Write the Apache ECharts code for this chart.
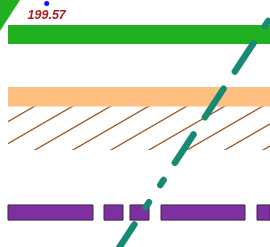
<!DOCTYPE html>
<html>
<head>
<meta charset="utf-8">
<style>
html, body { margin: 0; padding: 0; background: #fff; }
#main { width: 270px; height: 247px; }
</style>
<script src="https://cdn.jsdelivr.net/npm/echarts@6/dist/echarts.min.js"></script>
</head>
<body>
<div id="main"></div>
<script>
// axis extents (axes themselves are hidden)
var xRange = [0, 100];
var yRange = [100, 201];

// bands as [xStart, xEnd, yLow, yHigh]
var greenBand = [2.96, 100, 183, 190.8];
var orangeBand = [2.96, 100, 157.45, 165.4];
var hatchBand = [2.96, 100, 139.66, 157.45];

// purple segments on one row
var purpleRow = [111, 117.2];
var purpleStarts = [2.96, 38.52, 48.15, 59.63, 95.19];
var purpleEnds = [34.44, 45.56, 55.19, 90.74, 100];

// dash-dot trend line
var trendX = [40, 105];
var trendY = [92.8, 202];

// points
var peakPoint = [17.3, 199.57];
var cornerPoint = [0, 201];

var chart = echarts.init(document.getElementById('main'));

function hatchTile() {
	var c = document.createElement('canvas');
	c.width = 38;
	c.height = 22;
	var ctx = c.getContext('2d');
	ctx.strokeStyle = '#a0561e';
	ctx.lineWidth = 1.3;
	var slope = 22 / 38;
	for (var k = -1; k <= 2; k++) {
		var y0 = 16.26 + 22 * k;
		ctx.beginPath();
		ctx.moveTo(-5, y0 + 5 * slope);
		ctx.lineTo(43, y0 - 43 * slope);
		ctx.stroke();
	}
	return c;
}

function area(b, style) {
	return [{xAxis: b[0], yAxis: b[3], itemStyle: style}, {xAxis: b[1], yAxis: b[2]}];
}

var bandAreas = [
	area(greenBand, {color: '#21b021'}),
	area(orangeBand, {color: '#ffbf80'}),
	area(hatchBand, {color: {image: hatchTile(), repeat: 'repeat'}})
];
for (var i = 0; i < purpleStarts.length; i++) {
	bandAreas.push(area([purpleStarts[i], purpleEnds[i], purpleRow[0], purpleRow[1]],
		{color: '#7f30a0', borderColor: '#3a2842', borderWidth: 1}));
}

var trendData = [];
for (var j = 0; j < trendX.length; j++) {
	trendData.push([trendX[j], trendY[j]]);
}

var option = {
	animation: false,
	grid: {left: 0, right: 0, top: 0, bottom: 0},
	xAxis: {type: 'value', min: xRange[0], max: xRange[1], show: false},
	yAxis: {type: 'value', min: yRange[0], max: yRange[1], show: false},
	series: [
		{
			type: 'line',
			data: trendData,
			showSymbol: false,
			silent: true,
			z: 1,
			lineStyle: {
				color: '#178a74',
				width: 6.5,
				cap: 'round',
				type: [34, 20.6, 6, 20.6, 6, 20.6, 34, 20.6, 34, 20.6],
				dashOffset: 203
			}
		},
		{
			type: 'line',
			data: [],
			silent: true,
			z: 2,
			markArea: {silent: true, label: {show: false}, data: bandAreas}
		},
		{
			type: 'scatter',
			data: [cornerPoint],
			symbol: 'triangle',
			symbolSize: [80, 62],
			symbolRotate: 180,
			clip: false,
			silent: true,
			z: 3,
			itemStyle: {color: '#21b021', opacity: 1}
		},
		{
			type: 'scatter',
			data: [peakPoint],
			symbolSize: 5,
			silent: true,
			z: 4,
			itemStyle: {color: '#1010ff', opacity: 1},
			label: {
				show: true,
				position: 'bottom',
				distance: 3,
				color: '#a82020',
				fontStyle: 'italic',
				fontWeight: 'bold',
				fontSize: 12.5,
				fontFamily: 'Liberation Sans',
				formatter: function (p) { return p.value[1].toFixed(2); }
			}
		}
	]
};
chart.setOption(option);
</script>
</body>
</html>
